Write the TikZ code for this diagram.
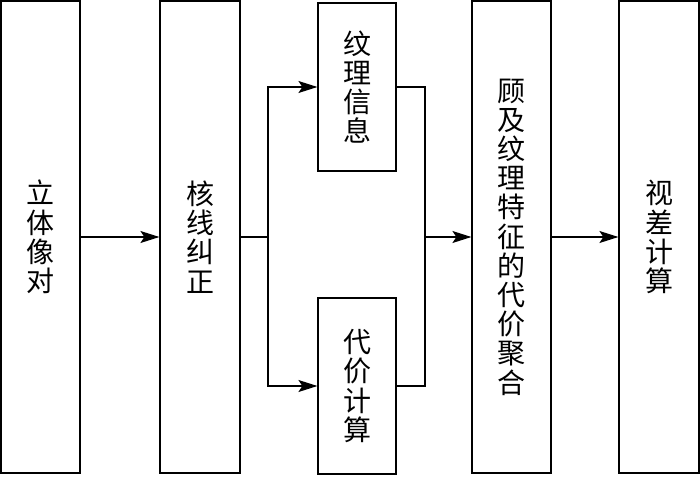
\documentclass[tikz,border=0pt]{standalone}
\usepackage{fontspec}
\newfontfamily\cjk{Noto Sans CJK SC}
\usetikzlibrary{arrows.meta}
\begin{document}
\begin{tikzpicture}[x=1pt,y=-1pt,
  box/.style={draw, line width=1.2pt, inner sep=0pt, align=center,
    font=\cjk\fontsize{28}{29.2}\selectfont},
  conn/.style={line width=1.2pt},
  arr/.style={conn, -{Stealth[length=19pt,width=12pt,inset=4pt]}}]
\useasboundingbox (0,0) rectangle (700,476);
\node[box, minimum width=79pt, minimum height=472pt] (b1) at (40.5,237) {立\\体\\像\\对};
\node[box, minimum width=80pt, minimum height=472pt] (b2) at (200,237) {核\\线\\纠\\正};
\node[box, minimum width=78pt, minimum height=168pt] (b3) at (357,87) {纹\\理\\信\\息};
\node[box, minimum width=78pt, minimum height=176pt] (b4) at (357,386) {代\\价\\计\\算};
\node[box, minimum width=79pt, minimum height=472pt] (b5) at (511.5,237) {顾\\及\\纹\\理\\特\\征\\的\\代\\价\\聚\\合};
\node[box, minimum width=80pt, minimum height=472pt] (b6) at (659,237) {视\\差\\计\\算};
\coordinate (j1) at (268,237);
\coordinate (j2) at (425,237);
\draw[arr] (b1.east) -- (b2.west);
\draw[conn] (b2.east) -- (j1);
\draw[arr] (j1) |- (b3.west);
\draw[arr] (j1) |- (b4.west);
\draw[conn] (b3.east) -| (j2);
\draw[conn] (b4.east) -| (j2);
\draw[arr] (j2) -- (b5.west);
\draw[arr] (b5.east) -- (b6.west);
\end{tikzpicture}
\end{document}
